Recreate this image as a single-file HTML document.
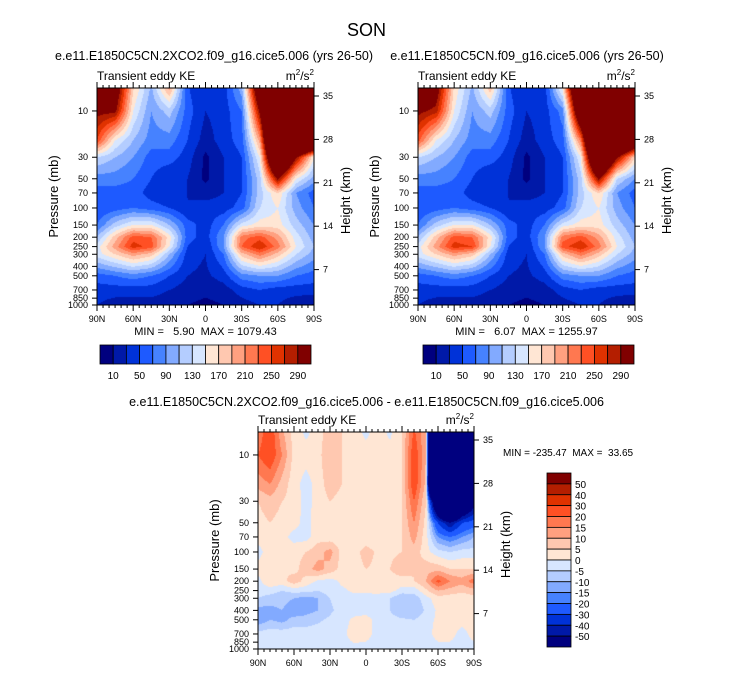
<!DOCTYPE html>
<html><head><meta charset="utf-8"><style>
body{margin:0;background:#fff;}
#wrap{position:relative;width:733px;height:673px;overflow:hidden;font-family:"Liberation Sans",sans-serif;color:#000;}
.t{position:absolute;white-space:nowrap;line-height:1;}
canvas{position:absolute;}
svg{position:absolute;left:0;top:0;}
svg text{white-space:pre;}
</style></head><body>
<div id="wrap">
<div class="t" style="left:0;width:733px;text-align:center;top:21px;font-size:18px;">SON</div>
<div class="t" style="left:55px;width:300px;text-align:center;top:50px;font-size:12.5px;">e.e11.E1850C5CN.2XCO2.f09_g16.cice5.006 (yrs 26-50)</div>
<div class="t" style="left:377px;width:300px;text-align:center;top:50px;font-size:12.5px;">e.e11.E1850C5CN.f09_g16.cice5.006 (yrs 26-50)</div>
<div class="t" style="left:0;width:733px;text-align:center;top:396px;font-size:12.5px;">e.e11.E1850C5CN.2XCO2.f09_g16.cice5.006 - e.e11.E1850C5CN.f09_g16.cice5.006</div>
<canvas id="c1" width="217" height="217" style="left:97px;top:88px"></canvas>
<canvas id="c2" width="217" height="217" style="left:418px;top:88px"></canvas>
<canvas id="c3" width="216" height="217" style="left:258px;top:432px"></canvas>
<svg id="ov" width="733" height="673"></svg>
</div>
<script>
// ---- data ----
const latsTop = [90,75,60,45,30,15,0,-15,-30,-45,-60,-75,-90];
const presTop = [5,10,20,30,50,70,100,150,200,250,300,500,700,1000];
const keLeft = [
 [400,350,180,110,220,50,30,40,110,400,600,600,600],
 [300,300,150,90,120,60,30,40,70,300,600,600,600],
 [250,150,110,80,80,50,20,40,60,200,600,600,500],
 [130,110,90,60,60,40,5,30,50,150,500,300,150],
 [80,80,70,50,30,30,5,30,50,120,300,150,100],
 [60,60,60,40,30,30,20,30,50,120,170,90,60],
 [50,60,70,60,50,30,40,40,60,130,150,100,70],
 [70,120,150,150,110,60,40,70,140,160,160,120,90],
 [110,180,240,230,160,60,40,90,220,240,200,140,100],
 [140,200,260,240,150,50,30,90,230,270,220,150,110],
 [140,170,200,180,110,40,30,70,180,220,180,130,100],
 [60,70,80,70,50,30,25,40,80,90,90,70,60],
 [40,40,40,40,30,20,15,20,40,50,40,40,40],
 [30,20,20,20,15,10,5,10,20,30,30,15,8]];
const keRight = [
 [400,330,170,110,200,50,30,40,180,500,600,600,600],
 [300,280,150,90,120,60,30,40,80,400,600,600,600],
 [240,150,110,80,80,50,20,40,60,220,600,500,400],
 [130,110,90,60,60,40,5,30,50,150,500,300,170],
 [80,80,70,50,30,30,5,30,50,120,300,130,90],
 [60,60,60,40,30,30,20,30,50,120,170,90,60],
 [50,60,70,60,50,30,40,40,60,130,150,100,70],
 [70,120,150,150,110,60,40,70,140,160,160,120,90],
 [110,180,240,230,160,60,40,90,220,240,200,140,100],
 [140,200,260,250,150,50,30,90,240,270,220,150,110],
 [140,170,200,180,110,40,30,70,180,220,180,130,100],
 [60,70,80,70,50,30,25,40,80,90,90,70,60],
 [40,40,40,40,30,20,15,20,40,50,40,40,40],
 [30,20,20,20,15,10,5,10,20,30,30,15,8]];
const latsDiff = [90,80,70,60,50,40,30,20,10,0,-10,-20,-30,-40,-50,-60,-70,-80,-90];
const presDiff = [5,10,20,30,50,70,100,150,200,250,300,400,500,700,1000];
const keDiff = [
 [15,25,10,3,-2,2,8,5,2,-2,2,-2,5,20,10,-300,-300,-300,-300],
 [20,25,15,3,2,3,10,5,2,2,3,2,5,25,10,-300,-300,-300,-300],
 [12,15,8,2,-2,2,8,5,2,2,3,2,5,25,8,-300,-300,-300,-300],
 [5,8,5,3,-2,2,5,3,2,2,3,2,5,20,5,-100,-200,-100,-60],
 [3,5,3,2,-2,3,3,2,2,2,3,2,5,15,3,-30,-50,-30,-25],
 [2,3,2,-2,-2,3,2,2,2,2,2,2,5,12,2,-15,-20,-15,-10],
 [-2,3,3,3,5,8,12,3,3,7,4,4,5,8,2,-3,-5,-3,-3],
 [2,3,5,3,8,12,8,3,3,5,4,5,8,5,8,8,5,5,5],
 [-2,5,3,8,3,-1,-2,1,2,3,3,3,3,5,10,22,15,12,18],
 [-3,-3,-5,-3,-3,-5,-2,-1,1,1,2,2,-2,-3,4,10,8,6,8],
 [-5,-7,-8,-10,-12,-10,-5,-2,-2,-2,-3,-5,-10,-8,-2,3,2,2,3],
 [-12,-12,-10,-14,-12,-10,-6,-3,-2,-2,-3,-5,-10,-10,-4,1,2,2,3],
 [-14,-10,-12,-8,-8,-6,-4,-2,1,2,-2,-3,-4,-5,-2,1,2,2,2],
 [-3,-2,-2,-2,-2,-2,-2,-2,3,2,-2,-2,-2,-2,-2,2,2,-2,2],
 [-2,-2,-2,-2,-2,-2,-2,-2,-2,-2,-2,-2,-2,-2,-2,-2,-2,-2,-2]];
const levelsTop = [10,30,50,70,90,110,130,150,170,190,210,230,250,270,290];
const levelsDiff = [-50,-40,-30,-20,-15,-10,-5,0,5,10,15,20,30,40,50];
const cbTopLabels = ["10","50","90","130","170","210","250","290"];
const cbDiffLabels = ["50","40","30","20","15","10","5","0","-5","-10","-15","-20","-30","-40","-50"];
const pTicks = [10,30,50,70,100,150,200,250,300,400,500,700,850,1000];
const zTicks = [35,28,21,14,7];
const latTicks = ["90N","60N","30N","0","30S","60S","90S"];
const palette = ["#00007f","#0019a8","#0032d8","#1e5aff","#4682ff","#82aaff","#b4cdff","#d7e6ff","#ffe6d4","#ffc8b0","#ffa080","#ff7850","#ff5024","#e03200","#b41e00","#800000"];

// ---- rendering ----
const PT=5.8, PB=1000, H=217;
const LT=Math.log10(PT), LB=Math.log10(PB);
function yOfP(p){return (Math.log10(p)-LT)/(LB-LT)*H;}
function pOfY(y){return Math.pow(10,LT+y/H*(LB-LT));}
function interp(lats,pres,grid,lat,p){
 let i=0;while(i<lats.length-2&&lat<lats[i+1])i++;
 let fx=(lats[i]-lat)/(lats[i]-lats[i+1]);fx=Math.max(0,Math.min(1,fx));
 const lp=Math.log(p);let j=0;while(j<pres.length-2&&lp>Math.log(pres[j+1]))j++;
 let fy=(lp-Math.log(pres[j]))/(Math.log(pres[j+1])-Math.log(pres[j]));fy=Math.max(0,Math.min(1,fy));
 const a=grid[j][i],b=grid[j][i+1],c=grid[j+1][i],d=grid[j+1][i+1];
 return (a*(1-fx)+b*fx)*(1-fy)+(c*(1-fx)+d*fx)*fy;
}
function draw(id,lats,pres,grid,levels){
 const cv=document.getElementById(id),ctx=cv.getContext('2d');
 const W=cv.width;
 for(let y=0;y<H;y++){const p=pOfY(y+0.5);
  for(let x=0;x<W;x++){const lat=90-180*(x+0.5)/W;
   const v=interp(lats,pres,grid,lat,p)+0.013;let k=0;while(k<levels.length&&v>=levels[k])k++;
   ctx.fillStyle=palette[k];ctx.fillRect(x,y,1,1);}}
}
draw('c1',latsTop,presTop,keLeft,levelsTop);
draw('c2',latsTop,presTop,keRight,levelsTop);
draw('c3',latsDiff,presDiff,keDiff,levelsDiff);

const NS='http://www.w3.org/2000/svg',svg=document.getElementById('ov');
function el(tag,attrs,txt){const e=document.createElementNS(NS,tag);for(const k in attrs)e.setAttribute(k,attrs[k]);if(txt!==undefined)e.textContent=txt;svg.appendChild(e);return e;}
function txt(x,y,s,size,anchor,name){const e=el('text',{x:x,y:y,'font-size':size,'text-anchor':anchor||'middle','font-family':'Liberation Sans, sans-serif'},s);
 
 return e;}
function panel(x0,y0,W,minmax,tag){
 const r=el('rect',{x:x0,y:y0,width:W,height:H,fill:'none',stroke:'#000','stroke-width':1});
 
 
 for(let l=0;l<=180;l+=5){const x=x0+W*l/180,len=l%30===0?6:3;
  el('line',{x1:x,y1:y0+H,x2:x,y2:y0+H+len,stroke:'#000'});
  el('line',{x1:x,y1:y0,x2:x,y2:y0-len,stroke:'#000'});}
 latTicks.forEach((s,i)=>txt(x0+W*i/6,y0+H+17,s,9,'middle',tag+'-x-tick-label'));
 pTicks.forEach(p=>{const y=y0+yOfP(p);el('line',{x1:x0,y1:y,x2:x0-5,y2:y,stroke:'#000'});
  txt(x0-9,y+3,String(p),9,'end',tag+'-y-tick-label');});
 zTicks.forEach(z=>{const y=y0+8+(35-z)*6.2;el('line',{x1:x0+W,y1:y,x2:x0+W+5,y2:y,stroke:'#000'});
  txt(x0+W+9,y+3,String(z),9,'start',tag+'-height-tick-label');});
 txt(x0,y0-8,'Transient eddy KE',12,'start',tag+'-variable-label');
 const u=txt(x0+W,y0-8,'',12,'end',tag+'-units');
 u.innerHTML='m<tspan dy="-5" font-size="8">2</tspan><tspan dy="5">/s</tspan><tspan dy="-5" font-size="8">2</tspan>';
 const a=txt(0,0,'Pressure (mb)',13,'middle',tag+'-y-axis-title');a.setAttribute('transform',`translate(${x0-39},${y0+H/2}) rotate(-90)`);
 const b=txt(0,0,'Height (km)',13,'middle',tag+'-right-axis-title');b.setAttribute('transform',`translate(${x0+W+36},${y0+H/2+4}) rotate(-90)`);
 if(minmax)txt(x0+W/2,y0+H+30,minmax,11,'middle',tag+'-min-max');
}
panel(97,88,217,'MIN =   5.90  MAX = 1079.43','left');
panel(418,88,217,'MIN =   6.07  MAX = 1255.97','right');
panel(258,432,216,null,'diff');
txt(503,456,'MIN = -235.47  MAX =  33.65',10,'start','diff-min-max');
function hbar(x0,y0,W,h,tag){const bw=W/16;
 palette.forEach((c,i)=>{const r=el('rect',{x:x0+i*bw,y:y0,width:bw,height:h,fill:c,stroke:'#000','stroke-width':0.8});
  
  });
 cbTopLabels.forEach((s,i)=>txt(x0+bw*(1+2*i),y0+h+15,s,10,'middle',tag+'-colorbar-label'));}
hbar(100,345,211,19,'left');hbar(423,345,211,19,'right');
(function(){const x0=547,y0=473,w=24,h=174,bh=h/16;
 palette.slice().reverse().forEach((c,i)=>{const r=el('rect',{x:x0,y:y0+i*bh,width:w,height:bh,fill:c,stroke:'#000','stroke-width':0.8});
  
  });
 cbDiffLabels.forEach((s,i)=>txt(x0+w+4,y0+bh*(i+1)+4,s,10,'start','diff-colorbar-label'));})();
</script>
</body></html>
